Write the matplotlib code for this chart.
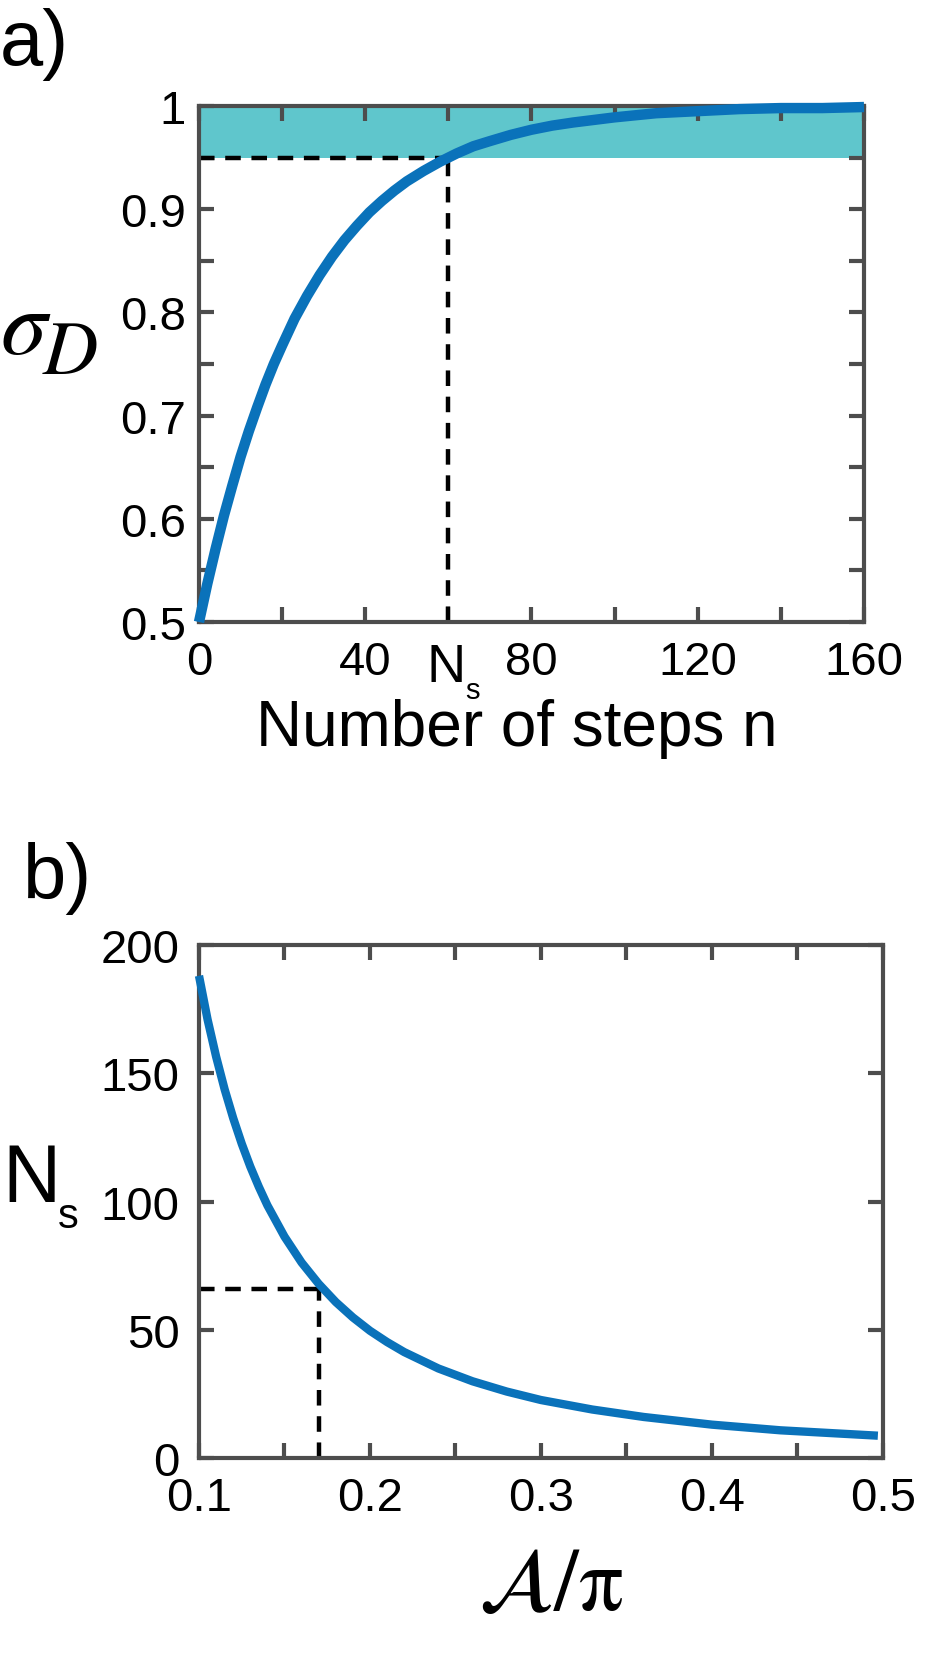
import matplotlib
matplotlib.use('Agg')
import matplotlib.pyplot as plt
from matplotlib.ticker import FixedLocator, FixedFormatter, MultipleLocator

plt.rcParams['font.family'] = ['Liberation Sans', 'DejaVu Sans']
plt.rcParams['mathtext.fontset'] = 'stix'

# a) sigma_D vs number of steps n
steps = [0, 2, 4, 6, 8, 10, 12, 14, 16, 18, 20, 23, 26, 29, 32, 35, 38, 41,
         44, 47, 50, 54, 58, 62, 66, 70, 75, 80, 85, 90, 100, 110, 120, 130,
         140, 150, 160]
sigma_d = [0.500, 0.537, 0.571, 0.603, 0.632, 0.660, 0.685, 0.708, 0.730,
           0.750, 0.768, 0.794, 0.816, 0.836, 0.854, 0.870, 0.884, 0.897,
           0.908, 0.918, 0.927, 0.937, 0.946, 0.954, 0.961, 0.966, 0.972,
           0.977, 0.981, 0.984, 0.989, 0.993, 0.995, 0.997, 0.998, 0.998,
           0.999]
band = [0.95, 1.0]
sigma_th = 0.95
n_s = 60

# b) N_s vs A/pi
area = [0.100, 0.105, 0.110, 0.115, 0.120, 0.125, 0.130, 0.135, 0.140,
        0.150, 0.160, 0.170, 0.180, 0.190, 0.200, 0.210, 0.220, 0.240,
        0.260, 0.280, 0.300, 0.330, 0.360, 0.400, 0.440, 0.497]
n_steps = [188, 171, 156.5, 143.7, 132.5, 122.5, 113.6, 105.7, 98.5,
           86.3, 76.2, 67.9, 60.8, 54.8, 49.6, 45.2, 41.3, 34.9,
           29.9, 25.9, 22.6, 18.9, 16.0, 13.0, 10.8, 8.7]
area_mark = 0.17
ns_mark = 66

BLUE = '#0A72BA'
TEAL = '#5FC6CC'
GRAY = '#4D4D4D'
W, H = 928, 1656
DASH = (3.5, 2.4)


def px(x, y):
    return x / W, 1 - y / H


def style(ax, pad):
    for s in ax.spines.values():
        s.set_color(GRAY)
        s.set_linewidth(3)
        s.set_zorder(2.5)
    ax.tick_params(which='both', direction='in', top=True, right=True,
                   length=11, width=3, color=GRAY, labelsize=34)
    ax.tick_params(axis='y', pad=pad)
    ax.tick_params(axis='x', pad=13)


fig = plt.figure(figsize=(W / 100, H / 100), dpi=100)

# ---------- panel a ----------
ax1 = fig.add_axes([199 / W, 1 - 623 / H, 665 / W, 516 / H])
ax1.fill_between([0, 160], band[0], band[1], color=TEAL, lw=0, zorder=1)
ax1.plot([0, n_s], [sigma_th, sigma_th], color='k', lw=3.2,
         dashes=DASH, zorder=2)
ax1.plot([n_s, n_s], [0.5, sigma_th], color='k', lw=3.2,
         dashes=DASH, zorder=2)
ax1.plot(steps, sigma_d, color=BLUE, lw=7.5, zorder=3, clip_on=False,
         solid_capstyle='butt', solid_joinstyle='round')
ax1.set_xlim(0, 160)
ax1.set_ylim(0.5, 1.0)
ax1.xaxis.set_major_locator(FixedLocator([0, 40, 80, 120, 160]))
ax1.xaxis.set_minor_locator(FixedLocator([20, 60, 100, 140]))
ax1.yaxis.set_major_locator(FixedLocator([0.5, 0.6, 0.7, 0.8, 0.9, 1.0]))
ax1.yaxis.set_major_formatter(FixedFormatter(['0.5', '0.6', '0.7', '0.8', '0.9', '1']))
ax1.yaxis.set_minor_locator(FixedLocator([0.55, 0.65, 0.75, 0.85, 0.95]))
style(ax1, 9.5)

# N_s marker below the axis
fig.text(*px(446, 682), 'N', fontsize=39, ha='center', va='baseline')
fig.text(*px(465, 699), 's', fontsize=21, ha='left', va='baseline')

fig.text(*px(517, 699), 'Number of steps n', fontsize=46, ha='center', va='top')
fig.text(*px(0, 354), r'$\sigma$', fontsize=67, ha='left', va='baseline')
fig.text(*px(42, 374), r'$D$', fontsize=55, ha='left', va='baseline')
fig.text(*px(0, 8), 'a)', fontsize=56, ha='left', va='top')

# ---------- panel b ----------
ax2 = fig.add_axes([199 / W, 1 - 1459 / H, 684 / W, 513 / H])
ax2.plot([0.1, area_mark], [ns_mark, ns_mark], color='k', lw=3.2,
         dashes=DASH, zorder=2)
ax2.plot([area_mark, area_mark], [0, ns_mark], color='k', lw=3.2,
         dashes=DASH, zorder=2)
ax2.plot(area, n_steps, color=BLUE, lw=6, zorder=3, clip_on=False,
         solid_capstyle='butt', solid_joinstyle='round')
ax2.set_xlim(0.1, 0.5)
ax2.set_ylim(0, 200)
ax2.xaxis.set_major_locator(FixedLocator([0.1, 0.2, 0.3, 0.4, 0.5]))
ax2.xaxis.set_major_formatter(FixedFormatter(['0.1', '0.2', '0.3', '0.4', '0.5']))
ax2.xaxis.set_minor_locator(FixedLocator([0.15, 0.25, 0.35, 0.45]))
ax2.yaxis.set_major_locator(MultipleLocator(50))
style(ax2, 14)

fig.text(*px(23, 842), 'b)', fontsize=56, ha='left', va='top')
fig.text(*px(2, 1202), 'N', fontsize=58, ha='left', va='baseline')
fig.text(*px(58, 1228), 's', fontsize=30, ha='left', va='baseline')
fig.text(*px(551, 1610), r'$\mathcal{A}/\mathrm{\pi}$', fontsize=64,
         ha='center', va='baseline')

fig.savefig('out.png', dpi=100)
